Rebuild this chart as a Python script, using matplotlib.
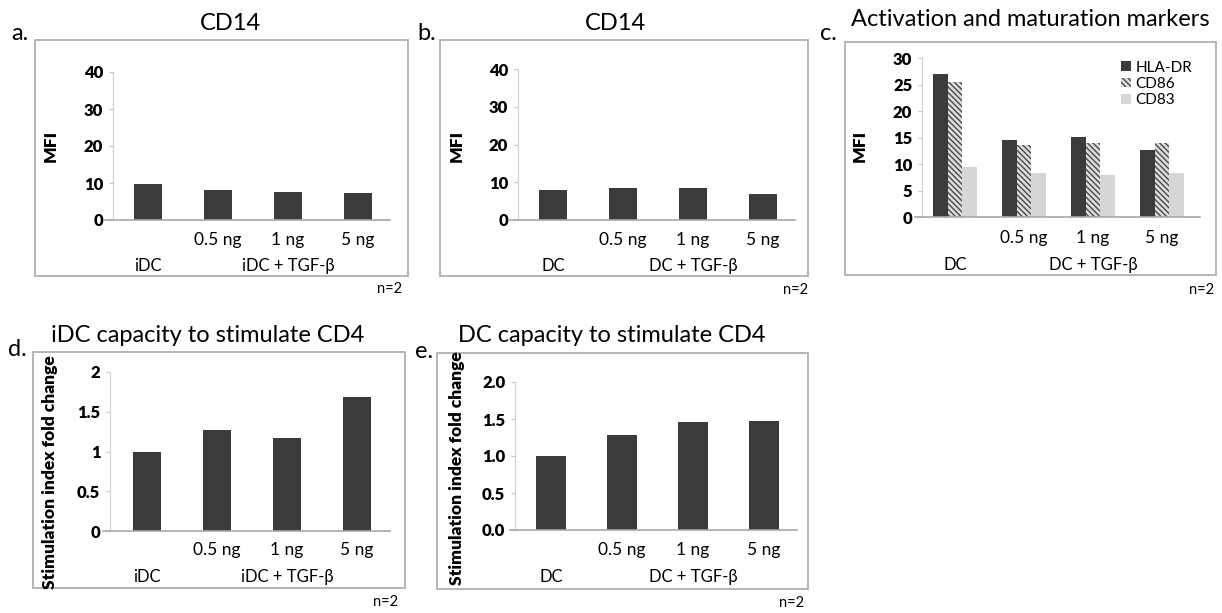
import numpy as np
import matplotlib.pyplot as plt
from matplotlib.patches import Rectangle

plt.rcParams['font.family'] = ['Lato', 'DejaVu Sans']
plt.rcParams['hatch.linewidth'] = 1.0

# --- data ---
doses = ["0.5 ng", "1 ng", "5 ng"]

cd14_idc = [9.7, 8.1, 7.6, 7.3]
cd14_dc = [7.9, 8.4, 8.4, 6.8]

markers = ["HLA-DR", "CD86", "CD83"]
hla_dr = [27.0, 14.5, 15.1, 12.6]
cd86 = [25.5, 13.6, 14.0, 14.0]
cd83 = [9.4, 8.3, 8.0, 8.3]

stim_idc = [1.0, 1.27, 1.17, 1.69]
stim_dc = [1.0, 1.28, 1.46, 1.47]

W, H = 1222, 613
fig = plt.figure(figsize=(W / 100, H / 100), dpi=100)

DARK = '#3b3b3b'
AXC = '#a8a8a8'


def fx(x):
    return x / W


def fy(y):
    return 1 - y / H


def frame(x0, y0, x1, y1):
    fig.add_artist(Rectangle((fx(x0), fy(y1)), fx(x1 - x0), (y1 - y0) / H,
                             transform=fig.transFigure, fill=False,
                             ec='#b0b0b0', lw=1.3))


def panel(p):
    # p: pixel geometry of one panel
    ax = fig.add_axes([fx(p['axl']), fy(p['y0']), fx(p['axr'] - p['axl']),
                       (p['y0'] - p['ytop']) / H])
    c0, sp = p['c0'], p['sp']
    ax.set_xlim((p['axl'] - c0) / sp, (p['axr'] - c0) / sp)
    ax.set_ylim(0, p['ymax'])
    for s in ['top', 'right']:
        ax.spines[s].set_visible(False)
    ax.spines['left'].set_position(('data', (p['yax'] - c0) / sp))
    ax.spines['left'].set_color('#d0d0d0')
    ax.spines['bottom'].set_color(AXC)
    ax.spines['bottom'].set_linewidth(1.2)
    ax.set_xticks([])
    ax.set_yticks(p['yticks'])
    ax.set_yticklabels(p['yticklabels'], fontweight='heavy', fontsize=12)
    ax.tick_params(axis='y', length=3, color='#c8c8c8', pad=4)
    ax.patch.set_alpha(0)
    hpx = p['y0'] - p['ytop']
    yd = -(p['ydose'] - p['y0']) / hpx
    yg = -(p['ygrp'] - p['y0']) / hpx
    tr = ax.get_xaxis_transform()
    for i, d in enumerate(doses):
        ax.text(i + 1, yd, d, ha='center', va='center', fontsize=12.5,
                transform=tr)
    ax.text(0, yg, p['ctrl'], ha='center', va='center', fontsize=12, transform=tr)
    ax.text(2, yg, p['ctrl'] + ' + TGF-β', ha='center', va='center',
            fontsize=12, transform=tr)
    frame(*p['frame'])
    fig.text(fx(p['tx']), fy(p['ty']), p['title'], ha='center', va='center',
             fontsize=17)
    fig.text(fx(p['lx']), fy(p['ly']), p['letter'], ha='left', va='center',
             fontsize=17)
    fig.text(fx(p['ylx']), fy(p['yly']), p['ylabel'], ha='center', va='center',
             rotation=90, fontweight='heavy', fontsize=p.get('ylfs', 12.5))
    fig.text(fx(p['nx']), fy(p['ny']), 'n=2', ha='right', va='center',
             fontsize=10.5)
    return ax


pa = dict(axl=105, axr=390, y0=220, ytop=72, c0=148, sp=70, yax=113, ymax=40,
          yticks=[0, 10, 20, 30, 40], yticklabels=['0', '10', '20', '30', '40'],
          ydose=240, ygrp=266, ctrl='iDC', frame=(35, 40, 408, 276),
          title='CD14', tx=230, ty=24, letter='a.', lx=11, ly=33,
          ylabel='MFI', ylx=51, yly=146, nx=402, ny=289)
ax = panel(pa)
ax.bar(np.arange(4), cd14_idc, width=0.4, color=DARK)

pb = dict(axl=510, axr=795, y0=220, ytop=69, c0=553, sp=70, yax=518, ymax=40,
          yticks=[0, 10, 20, 30, 40], yticklabels=['0', '10', '20', '30', '40'],
          ydose=240, ygrp=266, ctrl='DC', frame=(440, 40, 808, 276),
          title='CD14', tx=615, ty=24, letter='b.', lx=417, ly=33,
          ylabel='MFI', ylx=457, yly=146, nx=808, ny=290)
ax = panel(pb)
ax.bar(np.arange(4), cd14_dc, width=0.4, color=DARK)

pc = dict(axl=915, axr=1200, y0=217, ytop=58, c0=955, sp=69, yax=922, ymax=30,
          yticks=[0, 5, 10, 15, 20, 25, 30],
          yticklabels=['0', '5', '10', '15', '20', '25', '30'],
          ydose=238, ygrp=265, ctrl='DC', frame=(845, 42, 1216, 275),
          title='Activation and maturation markers', tx=1030, ty=20,
          letter='c.', lx=820, ly=33, ylabel='MFI', ylx=860, yly=146,
          nx=1214, ny=290)
ax = panel(pc)
x = np.arange(4)
bw = 0.217
ax.bar(x - bw, hla_dr, width=bw, color=DARK, label=markers[0])
ax.bar(x, cd86, width=bw, color='#dcdcdc', hatch='\\\\\\\\\\\\', edgecolor='#4a4a4a',
       linewidth=0, label=markers[1])
ax.bar(x + bw, cd83, width=bw, color='#d6d6d6', label=markers[2])
ax.legend(loc='upper right', bbox_to_anchor=(1.02, 1.07), frameon=False,
          fontsize=11, handlelength=0.6, handleheight=0.6, handletextpad=0.3,
          labelspacing=0.15)

pd_ = dict(axl=103, axr=390, y0=531, ytop=372, c0=147, sp=70, yax=110, ymax=2,
           yticks=[0, 0.5, 1, 1.5, 2], yticklabels=['0', '0.5', '1', '1.5', '2'],
           ydose=550, ygrp=577, ctrl='iDC', frame=(33, 352, 405, 588),
           title='iDC capacity to stimulate CD4', tx=208, ty=335, letter='d.',
           lx=8, ly=350, ylabel='Stimulation index fold change', ylx=50,
           yly=472, ylfs=12.5, nx=398, ny=602)
ax = panel(pd_)
ax.bar(np.arange(4), stim_idc, width=0.39, color=DARK)

pe = dict(axl=510, axr=797, y0=530, ytop=382, c0=551, sp=71, yax=515, ymax=2,
          yticks=[0, 0.5, 1, 1.5, 2],
          yticklabels=['0.0', '0.5', '1.0', '1.5', '2.0'],
          ydose=550, ygrp=577, ctrl='DC', frame=(437, 353, 808, 589),
          title='DC capacity to stimulate CD4', tx=612, ty=336, letter='e.',
          lx=415, ly=352, ylabel='Stimulation index fold change', ylx=457,
          yly=468, ylfs=12.5, nx=804, ny=603)
ax = panel(pe)
ax.bar(np.arange(4), stim_dc, width=0.41, color=DARK)

fig.savefig('out.png', dpi=100)
